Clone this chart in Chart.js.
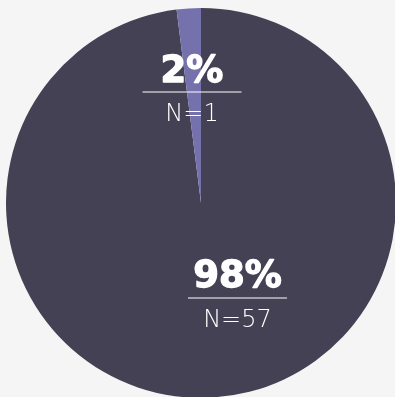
<!DOCTYPE html>
<html>
<head>
<meta charset="utf-8">
<script src="https://cdn.jsdelivr.net/npm/chart.js@4"></script>
<style>
  html, body { margin: 0; padding: 0; background: #f5f5f5; overflow: hidden; width: 395px; height: 397px; }
  #wrap { position: absolute; left: 6px; top: 8px; width: 390px; height: 390px; }
</style>
</head>
<body>
<div id="wrap"><canvas id="c"></canvas></div>
<script>
// ---- data ----
const categories = ['98%', '2%'];
const percentValues = [98, 2];
const counts = [57, 1];

// ---- style ----
const sliceColors = ['#444154', '#7471ac'];
// label anchor (line centre) relative to pie centre, as fraction of radius
const labelAnchors = [[0.187, 0.487], [-0.046, -0.569]];

const labelPlugin = {
  id: 'pctLabels',
  afterDatasetsDraw(chart) {
    const ctx = chart.ctx;
    const meta = chart.getDatasetMeta(0);
    meta.data.forEach((arc, i) => {
      const r = arc.outerRadius;
      const cx = arc.x + labelAnchors[i][0] * r;
      const ly = arc.y + labelAnchors[i][1] * r;
      ctx.save();
      ctx.fillStyle = '#ffffff';
      ctx.strokeStyle = '#ffffff';
      ctx.textAlign = 'center';
      ctx.textBaseline = 'alphabetic';
      ctx.font = 'bold 37px "DejaVu Sans"';
      ctx.lineWidth = 1.3;
      ctx.lineJoin = 'round';
      ctx.fillText(categories[i], cx, ly - 10.5);
      ctx.strokeText(categories[i], cx, ly - 10.5);
      ctx.strokeStyle = 'rgba(255,255,255,0.5)';
      ctx.lineWidth = 2;
      ctx.beginPath();
      ctx.moveTo(cx - 49.5, ly);
      ctx.lineTo(cx + 49.5, ly);
      ctx.stroke();
      ctx.font = '200 24px "DejaVu Sans"';
      ctx.fillText('N=' + counts[i], cx, ly + 29);
      ctx.restore();
    });
  }
};

new Chart(document.getElementById('c'), {
  type: 'pie',
  data: {
    labels: categories,
    datasets: [{
      data: percentValues,
      backgroundColor: sliceColors,
      borderWidth: 0
    }]
  },
  options: {
    responsive: true,
    maintainAspectRatio: false,
    animation: false,
    layout: { padding: 0 },
    plugins: { legend: { display: false }, tooltip: { enabled: false } }
  },
  plugins: [labelPlugin]
});
</script>
</body>
</html>
